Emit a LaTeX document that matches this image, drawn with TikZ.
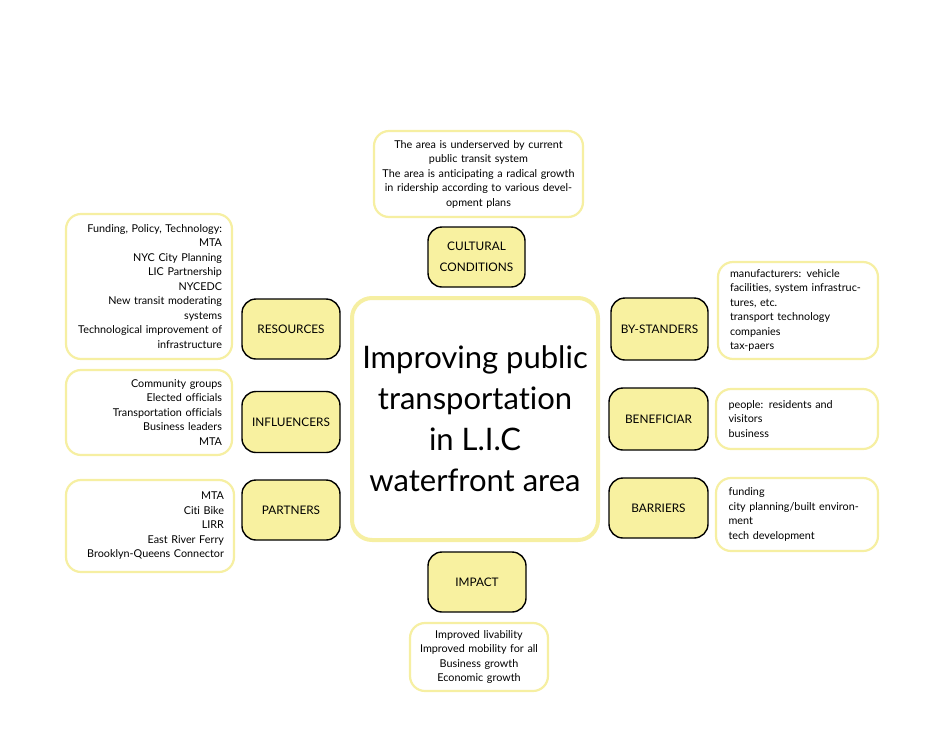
\documentclass[tikz,border=0pt]{standalone}
\usepackage{fontspec}
\setmainfont{Lato}[Ligatures=NoCommon]
\definecolor{labfill}{RGB}{248,241,160}
\definecolor{softline}{RGB}{246,239,162}
\tikzset{
  labelbox/.style={draw=black, line width=1.4pt, fill=labfill, rounded corners=14pt,
    align=center, inner sep=0pt, font=\fontsize{11.8}{21}\selectfont},
  infobox/.style={draw=softline, line width=2.2pt, fill=white, rounded corners=15pt,
    inner sep=0pt, font=\fontsize{10.8}{14.5}\selectfont},
  mainbox/.style={draw=softline, line width=4pt, fill=white, rounded corners=20pt,
    align=center, inner sep=0pt, font=\fontsize{31}{41}\selectfont}
}
\begin{document}
\begin{tikzpicture}[x=1pt,y=-1pt]
\useasboundingbox (0,0) rectangle (951,737);
% central
\node[mainbox, minimum width=246pt, minimum height=242pt] (main) at (475,419)
  {Improving public\\transportation\\in L.I.C\\waterfront area};
% labels
\node[labelbox, minimum width=97pt, minimum height=60pt] (cult) at (476.5,257) {CULTURAL\\CONDITIONS};
\node[labelbox, minimum width=98pt, minimum height=60pt] (res) at (291,329) {RESOURCES};
\node[labelbox, minimum width=98pt, minimum height=61pt] (inf) at (291,422) {INFLUENCERS};
\node[labelbox, minimum width=98pt, minimum height=60pt] (par) at (291,510) {PARTNERS};
\node[labelbox, minimum width=97pt, minimum height=62pt] (bys) at (659.5,329) {BY-STANDERS};
\node[labelbox, minimum width=99pt, minimum height=62pt] (ben) at (658.5,419) {BENEFICIAR};
\node[labelbox, minimum width=99pt, minimum height=60pt] (bar) at (658.5,508) {BARRIERS};
\node[labelbox, minimum width=98pt, minimum height=60pt] (imp) at (477,582) {IMPACT};
% info boxes
\node[infobox, minimum width=209pt, minimum height=86pt, text width=200pt, align=center] (cultT) at (478.5,174)
  {The area is underserved by current\\public transit system\\The area is anticipating a radical growth\\in ridership according to various devel-\\opment plans};
\node[infobox, minimum width=166pt, minimum height=145pt, text width=146pt, align=right] (resT) at (149,286.5)
  {Funding, Policy, Technology:\\MTA\\NYC City Planning\\LIC Partnership\\NYCEDC\\New transit moderating\\systems\\Technological improvement of\\infrastructure};
\node[infobox, minimum width=166pt, minimum height=85pt, text width=146pt, align=right] (infT) at (149,412.5)
  {Community groups\\Elected officials\\Transportation officials\\Business leaders\\MTA};
\node[infobox, minimum width=168pt, minimum height=92pt, text width=148pt, align=right] (parT) at (150,526)
  {MTA\\Citi Bike\\LIRR\\East River Ferry\\Brooklyn-Queens Connector};
\node[infobox, minimum width=160pt, minimum height=97pt, text width=136pt, align=left] (bysT) at (798,310.5)
  {manufacturers: vehicle\\facilities, system infrastruc-\\tures, etc.\\transport technology\\companies\\tax-paers};
\node[infobox, minimum width=162pt, minimum height=60pt, text width=137pt, align=left] (benT) at (797,419)
  {people: residents and\\visitors\\business};
\node[infobox, minimum width=162pt, minimum height=73pt, text width=137pt, align=left] (barT) at (797,514.5)
  {funding\\city planning/built environ-\\ment\\tech development};
\node[infobox, minimum width=138pt, minimum height=68pt, text width=134pt, align=center] (impT) at (479,657)
  {Improved livability\\Improved mobility for all\\Business growth\\Economic growth};
\end{tikzpicture}
\end{document}
